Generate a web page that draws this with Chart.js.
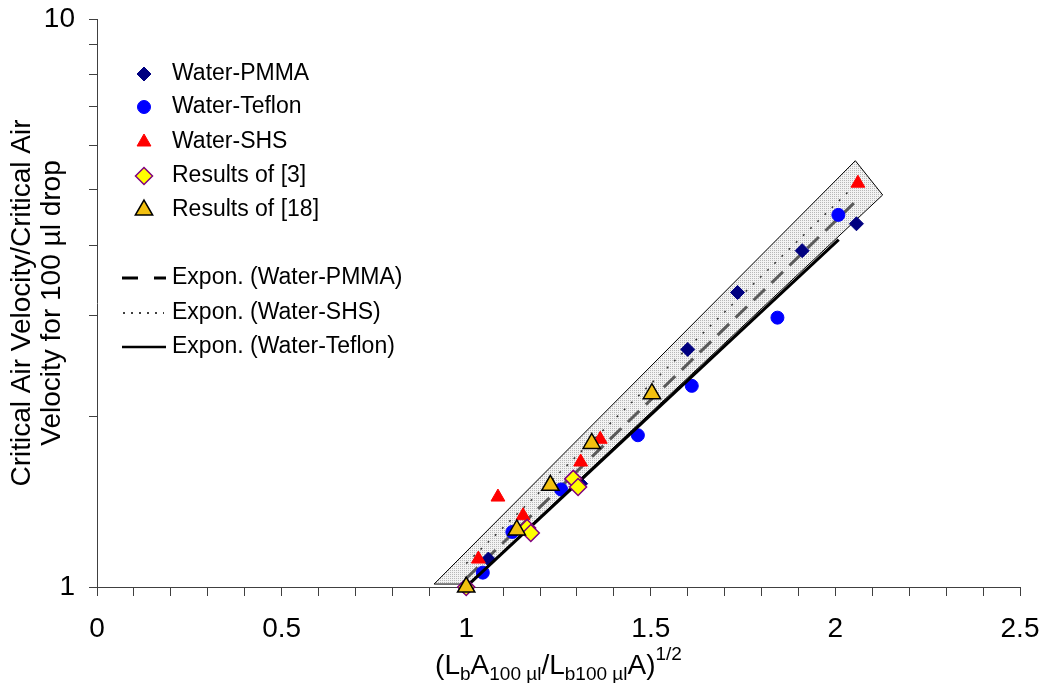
<!DOCTYPE html>
<html>
<head>
<meta charset="utf-8">
<script src="https://cdn.jsdelivr.net/npm/chart.js@4.4.0/dist/chart.umd.min.js"></script>
<style>
  html, body { margin: 0; padding: 0; background: #fff; }
  #wrap { width: 1044px; height: 683px; }
</style>
</head>
<body>
<div id="wrap"><canvas id="chart" width="1044" height="683"></canvas></div>
<script>
// Data
var pmmaX = [1.0, 1.06, 1.31, 1.60, 1.735, 1.91, 2.057];
var pmmaY = [1.0, 1.12, 1.52, 2.62, 3.30, 3.91, 4.36];
var teflonX = [1.0, 1.045, 1.125, 1.257, 1.465, 1.611, 1.843, 2.008];
var teflonY = [1.0, 1.06, 1.25, 1.485, 1.85, 2.26, 2.98, 4.52];
var shsX = [1.0, 1.033, 1.086, 1.154, 1.31, 1.363, 2.061];
var shsY = [1.0, 1.12, 1.44, 1.335, 1.66, 1.82, 5.14];
var ref3X = [1.0, 1.165, 1.175, 1.29, 1.303];
var ref3Y = [1.0, 1.27, 1.245, 1.55, 1.50];
var ref18X = [1.0, 1.137, 1.228, 1.34, 1.503];
var ref18Y = [1.0, 1.26, 1.51, 1.79, 2.19];
// exponential trend lines, end points only (straight on the log axis)
var trendPmmaX = [1.0, 2.05];
var trendPmmaY = [1.035, 4.74];
var trendShsX = [1.0, 2.041];
var trendShsY = [1.10, 5.01];
var trendTeflonX = [1.01, 2.009];
var trendTeflonY = [1.015, 4.09];
// shaded band corners
var bandX = [0.913, 1.005, 2.128, 2.054, 0.913];
var bandY = [1.012, 1.012, 4.90, 5.63, 1.012];
// axes
var xTickValues = [0, 0.1, 0.2, 0.3, 0.4, 0.5, 0.6, 0.7, 0.8, 0.9, 1, 1.1, 1.2, 1.3, 1.4, 1.5, 1.6, 1.7, 1.8, 1.9, 2, 2.1, 2.2, 2.3, 2.4, 2.5];
var xTickLabels = ['0', '0.5', '1', '1.5', '2', '2.5'];
var yTickValues = [1, 2, 3, 4, 5, 6, 7, 8, 9, 10];
var yTickLabels = ['1', '10'];
var yTitle = ['Critical Air Velocity/Critical Air', 'Velocity for 100 \u00b5l drop'];
var markerNames = ['Water-PMMA', 'Water-Teflon', 'Water-SHS', 'Results of [3]', 'Results of [18]'];
var lineNames = ['Expon. (Water-PMMA)', 'Expon. (Water-SHS)', 'Expon. (Water-Teflon)'];

var FONT = '"Liberation Sans", Arial, sans-serif';
Chart.defaults.font.family = FONT;
Chart.defaults.color = '#000';

function toPts(xs, ys) {
  var out = [];
  for (var i = 0; i < xs.length; i++) out.push({x: xs[i], y: ys[i]});
  return out;
}

function makePattern() {
  var c = document.createElement('canvas');
  c.width = 2; c.height = 2;
  var g = c.getContext('2d');
  g.fillStyle = '#f3f3f3';
  g.fillRect(0, 0, 2, 2);
  g.fillStyle = '#b8b8b8';
  g.fillRect(0, 0, 1, 1);
  return g.createPattern(c, 'repeat');
}

// markers, same shapes as Chart.js point styles
var styles = [
  {shape: 'diamond', r: 7, fill: '#000080', stroke: '#000080', lw: 1},
  {shape: 'circle', r: 6.5, fill: '#0000ff', stroke: '#0000ff', lw: 1},
  {shape: 'triangle', r: 8, fill: '#ff0000', stroke: '#ff0000', lw: 1},
  {shape: 'diamond', r: 8.5, fill: '#ffff00', stroke: '#800080', lw: 1.5},
  {shape: 'triangle', r: 10, fill: '#f2c010', stroke: '#000000', lw: 1.5}
];
var cjsStyle = {diamond: 'rectRot', circle: 'circle', triangle: 'triangle'};

function drawMarker(ctx, s, x, y) {
  ctx.beginPath();
  if (s.shape === 'circle') {
    ctx.arc(x, y, s.r, 0, Math.PI * 2);
  } else if (s.shape === 'diamond') {
    ctx.moveTo(x, y - s.r); ctx.lineTo(x + s.r, y); ctx.lineTo(x, y + s.r); ctx.lineTo(x - s.r, y);
  } else {
    var a = Math.sqrt(3) / 2 * s.r;
    ctx.moveTo(x, y - s.r); ctx.lineTo(x + a, y + s.r / 2); ctx.lineTo(x - a, y + s.r / 2);
  }
  ctx.closePath();
  ctx.fillStyle = s.fill; ctx.fill();
  ctx.lineWidth = s.lw; ctx.strokeStyle = s.stroke; ctx.stroke();
}

function pointSet(label, xs, ys, s, order) {
  return {
    label: label, data: toPts(xs, ys), showLine: false, order: order, clip: false,
    pointStyle: cjsStyle[s.shape], pointRadius: s.r,
    pointBackgroundColor: s.fill, pointBorderColor: s.stroke, pointBorderWidth: s.lw
  };
}

function lineSet(label, xs, ys, color, width, dash, order) {
  return {
    type: 'line', label: label, data: toPts(xs, ys), order: order, clip: false,
    borderColor: color, borderWidth: width, borderDash: dash, pointRadius: 0, fill: false
  };
}

var annotate = {
  id: 'annotate',
  afterDraw: function (chart) {
    var ctx = chart.ctx;
    var area = chart.chartArea;
    ctx.save();
    ctx.fillStyle = '#000';
    // y title
    ctx.save();
    ctx.font = '28px ' + FONT;
    ctx.translate(22, (area.top + area.bottom) / 2);
    ctx.rotate(-Math.PI / 2);
    ctx.textAlign = 'center';
    ctx.textBaseline = 'middle';
    ctx.fillText(yTitle[0], 0, 0);
    ctx.fillText(yTitle[1], 0, 30);
    ctx.restore();
    // x title with sub- and superscripts
    var parts = [['(L', 0], ['b', 1], ['A', 0], ['100 \u00b5l', 1], ['/L', 0], ['b100 \u00b5l', 1], ['A)', 0], ['1/2', 2]];
    var total = 0;
    parts.forEach(function (p) {
      ctx.font = (p[1] ? '19px ' : '28px ') + FONT;
      total += ctx.measureText(p[0]).width;
    });
    var x = (area.left + area.right) / 2 - total / 2;
    var base = 674;
    ctx.textAlign = 'left';
    ctx.textBaseline = 'alphabetic';
    parts.forEach(function (p) {
      ctx.font = (p[1] ? '19px ' : '28px ') + FONT;
      var dy = p[1] === 1 ? 6 : (p[1] === 2 ? -14 : 0);
      ctx.fillText(p[0], x, base + dy);
      x += ctx.measureText(p[0]).width;
    });
    // legend
    ctx.font = '23px ' + FONT;
    ctx.textBaseline = 'middle';
    var rowsY = [74, 107, 142, 176, 210];
    for (var i = 0; i < markerNames.length; i++) {
      drawMarker(ctx, styles[i], 144, rowsY[i]);
      ctx.fillStyle = '#000';
      ctx.fillText(markerNames[i], 172, rowsY[i]);
    }
    var lineY = [278, 313, 347];
    ctx.strokeStyle = '#000';
    ctx.lineWidth = 3;
    ctx.beginPath(); ctx.moveTo(122, lineY[0]); ctx.lineTo(138, lineY[0]);
    ctx.moveTo(154, lineY[0]); ctx.lineTo(166, lineY[0]); ctx.stroke();
    ctx.lineWidth = 1.5;
    ctx.setLineDash([2, 6]);
    ctx.beginPath(); ctx.moveTo(123, lineY[1]); ctx.lineTo(164, lineY[1]); ctx.stroke();
    ctx.setLineDash([]);
    ctx.lineWidth = 2.5;
    ctx.beginPath(); ctx.moveTo(122, lineY[2]); ctx.lineTo(166, lineY[2]); ctx.stroke();
    for (var j = 0; j < lineNames.length; j++) ctx.fillText(lineNames[j], 172, lineY[j]);
    ctx.restore();
  }
};

var ctx = document.getElementById('chart').getContext('2d');
var chart = new Chart(ctx, {
  type: 'scatter',
  data: {
    datasets: [
      pointSet('Results of [18]', ref18X, ref18Y, styles[4], 0),
      pointSet('Results of [3]', ref3X, ref3Y, styles[3], 1),
      lineSet('Expon. (Water-Teflon)', trendTeflonX, trendTeflonY, '#000000', 3, [], 2),
      pointSet('Water-SHS', shsX, shsY, styles[2], 3),
      pointSet('Water-Teflon', teflonX, teflonY, styles[1], 4),
      pointSet('Water-PMMA', pmmaX, pmmaY, styles[0], 5),
      lineSet('Expon. (Water-PMMA)', trendPmmaX, trendPmmaY, '#5a5a5a', 3, [16, 9], 6),
      lineSet('Expon. (Water-SHS)', trendShsX, trendShsY, '#333333', 1.5, [2, 8], 7),
      {
        type: 'line', label: 'band', data: toPts(bandX, bandY), order: 8, clip: false,
        borderColor: '#000', borderWidth: 1, pointRadius: 0, fill: 'shape',
        backgroundColor: makePattern(), tension: 0
      }
    ]
  },
  options: {
    responsive: false,
    animation: false,
    events: [],
    layout: {padding: {left: 0, right: 24, top: 19, bottom: 0}},
    plugins: {legend: {display: false}, tooltip: {enabled: false}},
    scales: {
      x: {
        type: 'linear', min: 0, max: 2.5,
        afterFit: function (s) { s.height = 96; s.paddingLeft = 0; s.paddingRight = 0; },
        afterBuildTicks: function (s) { s.ticks = xTickValues.map(function (v) { return {value: v}; }); },
        grid: {drawOnChartArea: false, tickLength: 9, color: '#404040', lineWidth: 1},
        border: {color: '#404040', width: 1},
        ticks: {
          autoSkip: false, maxRotation: 0, padding: 16, color: '#000', font: {size: 28},
          callback: function (v) {
            for (var i = 0; i < xTickLabels.length; i++) if (Math.abs(parseFloat(xTickLabels[i]) - v) < 1e-6) return xTickLabels[i];
            return '';
          }
        }
      },
      y: {
        type: 'logarithmic', min: 1, max: 10,
        afterFit: function (s) { s.width = 97; s.paddingTop = 0; s.paddingBottom = 0; },
        afterBuildTicks: function (s) { s.ticks = yTickValues.map(function (v) { return {value: v}; }); },
        grid: {drawOnChartArea: false, tickLength: 8, color: '#404040', lineWidth: 1},
        border: {color: '#404040', width: 1},
        ticks: {
          autoSkip: false, padding: 14, color: '#000', font: {size: 28},
          callback: function (v) {
            for (var i = 0; i < yTickLabels.length; i++) if (Math.abs(parseFloat(yTickLabels[i]) - v) < 1e-6) return yTickLabels[i];
            return '';
          }
        }
      }
    }
  },
  plugins: [annotate]
});
</script>
</body>
</html>
